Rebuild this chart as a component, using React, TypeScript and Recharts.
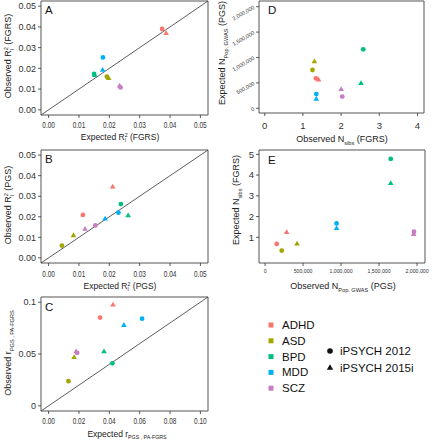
import React from 'react';
import { ScatterChart, Scatter, XAxis, YAxis, ReferenceLine, ReferenceArea } from 'recharts';

const FONT = "'Liberation Sans', Arial, Helvetica, sans-serif";

const diseases = ['ADHD', 'ASD', 'BPD', 'MDD', 'SCZ'];
const diseaseColors = ['#F8766D', '#A3A500', '#00BF7D', '#00B0F6', '#C77CC4'];
const cohorts = ['iPSYCH 2012', 'iPSYCH 2015i'];

// Panel A: Expected vs observed R2 (FGRS)
const aExpected2012 = [0.0374, 0.0192, 0.0150, 0.0179, 0.0237];
const aObserved2012 = [0.0390, 0.0160, 0.0173, 0.0253, 0.0108];
const aExpected2015 = [0.0387, 0.0198, 0.0152, 0.0178, 0.0234];
const aObserved2015 = [0.0369, 0.0152, 0.0167, 0.0192, 0.0116];

// Panel B: Expected vs observed R2 (PGS)
const bExpected2012 = [0.0113, 0.0044, 0.0238, 0.0230, 0.0154];
const bObserved2012 = [0.0209, 0.0060, 0.0262, 0.0220, 0.0158];
const bExpected2015 = [0.0211, 0.0082, 0.0262, 0.0186, 0.0120];
const bObserved2015 = [0.0346, 0.0109, 0.0206, 0.0190, 0.0140];

// Panel C: Expected vs observed r PGS, PA-FGRS
const cExpected2012 = [0.0339, 0.0131, 0.0420, 0.0616, 0.0188];
const cObserved2012 = [0.0851, 0.0238, 0.0410, 0.0841, 0.0511];
const cExpected2015 = [0.0424, 0.0168, 0.0365, 0.0496, 0.0181];
const cObserved2015 = [0.0975, 0.0467, 0.0524, 0.0778, 0.0524];

// Panel D: Observed N sibs (FGRS) vs expected N Pop. GWAS (PGS)
const dSibs2012 = [1.34, 1.25, 2.58, 1.35, 2.03];
const dPop2012 = [590000, 754000, 1160000, 280000, 230000];
const dSibs2015 = [1.41, 1.30, 2.52, 1.35, 2.00];
const dPop2015 = [560000, 920000, 490000, 180000, 374000];

// Panel E: Observed N Pop. GWAS (PGS) vs expected N sibs (FGRS)
const ePop2012 = [153000, 219000, 1654000, 941000, 1960000];
const eSibs2012 = [0.68, 0.36, 4.78, 1.67, 1.27];
const ePop2015 = [284000, 420000, 1654000, 941000, 1956000];
const eSibs2015 = [1.24, 0.68, 3.60, 1.43, 1.15];

const r2Ticks = [0, 0.01, 0.02, 0.03, 0.04, 0.05];
const cXTicks = [0, 0.02, 0.04, 0.06, 0.08, 0.1];
const cYTicks = [0, 0.05, 0.1];
const dXTicks = [0, 1, 2, 3, 4];
const dYTicks = [0, 500000, 1000000, 1500000, 2000000];
const eXTicks = [0, 500000, 1000000, 1500000, 2000000];
const eYTicks = [1, 2, 3, 4, 5];

type Pt = { x: number; y: number; disease: string; color: string };
const mk = (xs: number[], ys: number[]): Pt[] =>
  xs.map((x, i) => ({ x, y: ys[i], disease: diseases[i], color: diseaseColors[i] }));

const circleShape = (p: any) => <circle cx={p.cx} cy={p.cy} r={2.4} fill={p.payload.color} />;
const triangleShape = (p: any) => {
  const { cx, cy } = p;
  const pts = `${cx},${cy - 3.1} ${cx - 2.8},${cy + 1.7} ${cx + 2.8},${cy + 1.7}`;
  return <polygon points={pts} fill={p.payload.color} />;
};

type TickOpts = {
  fs: number;
  anchor: 'middle' | 'end';
  dy: number;
  sx?: number;
  rot?: number;
  fmt: (v: number) => string;
};
const makeTick = (o: TickOpts) => (props: any) => {
  const { x, y, payload } = props;
  let t = `translate(${x},${y})`;
  if (o.sx) t += ` scale(${o.sx},1)`;
  if (o.rot) t += ` rotate(${o.rot})`;
  return (
    <g transform={t}>
      <text x={0} y={o.dy} textAnchor={o.anchor} fontSize={o.fs} fontFamily={FONT} fill="#333">
        {o.fmt(payload.value)}
      </text>
    </g>
  );
};

const fmt2 = (v: number) => v.toFixed(2);
const fmtC = (v: number) => (v === 0 ? '0' : String(v));
const fmtInt = (v: number) => String(v);
const fmtComma = (v: number) => v.toLocaleString('en-US');

type PanelProps = {
  box: [number, number, number, number];
  xDomain: [number, number];
  yDomain: [number, number];
  xTicks: number[];
  yTicks: number[];
  xTick: TickOpts;
  yTick: TickOpts;
  d2012: Pt[];
  d2015: Pt[];
  diagonal?: boolean;
  rightExtra?: number;
};

function Panel(props: PanelProps) {
  const { box, xDomain, yDomain, xTicks, yTicks, xTick, yTick, d2012, d2015, diagonal } = props;
  const [x0, y0, x1, y1] = box;
  const AX = 45;
  const BOT = 30;
  const PAD = 2;
  const RIGHT = PAD + (props.rightExtra || 0);
  const left = x0 - AX;
  const top = y0 - PAD;
  const width = x1 - x0 + AX + RIGHT;
  const height = y1 - y0 + PAD + BOT;
  return (
    <div style={{ position: 'absolute', left, top }}>
      <ScatterChart
        width={width}
        height={height}
        margin={{ top: PAD, right: RIGHT, bottom: 0, left: 0 }}
        style={{ overflow: 'visible' }}
      >
        <XAxis
          type="number"
          dataKey="x"
          domain={xDomain}
          ticks={xTicks}
          interval={0}
          allowDataOverflow
          axisLine={false}
          tickSize={3}
          tickLine={{ stroke: '#333', strokeWidth: 0.8 }}
          height={BOT}
          tick={makeTick(xTick)}
        />
        <YAxis
          type="number"
          dataKey="y"
          domain={yDomain}
          ticks={yTicks}
          interval={0}
          allowDataOverflow
          axisLine={false}
          tickSize={3}
          tickLine={{ stroke: '#333', strokeWidth: 0.8 }}
          width={AX}
          tick={makeTick(yTick)}
        />
        <ReferenceArea
          x1={xDomain[0]}
          x2={xDomain[1]}
          y1={yDomain[0]}
          y2={yDomain[1]}
          fill="none"
          stroke="#555"
          strokeWidth={1}
          ifOverflow="visible"
        />
        {diagonal && (
          <ReferenceLine
            segment={[
              { x: xDomain[0], y: yDomain[0] },
              { x: xDomain[1], y: yDomain[1] },
            ]}
            stroke="#333"
            strokeWidth={0.8}
            ifOverflow="visible"
          />
        )}
        <Scatter name={cohorts[0]} data={d2012} shape={circleShape} isAnimationActive={false} />
        <Scatter name={cohorts[1]} data={d2015} shape={triangleShape} isAnimationActive={false} />
      </ScatterChart>
    </div>
  );
}

type TitleProps = {
  x: number;
  y: number;
  vertical?: boolean;
  fs: number;
  pre: string;
  sup?: string;
  sub?: string;
  post: string;
  supW?: number;
  subW?: number;
};

function MathTitle(p: TitleProps) {
  const { x, y, vertical, fs, pre, sup, sub, post } = p;
  const s = fs * 0.62;
  const parts: any[] = [];
  let net = 0;
  if (sup) {
    parts.push(
      <tspan key="sup" dy={-0.38 * fs} fontSize={s}>
        {sup}
      </tspan>
    );
    net = -0.38 * fs;
  }
  if (sub) {
    const dx = sup ? -(p.supW || 0.556) * s : 0;
    const target = 0.28 * fs;
    parts.push(
      <tspan key="sub" dx={dx} dy={target - net} fontSize={s}>
        {sub}
      </tspan>
    );
    net = target;
  }
  const postDx = sup && sub ? Math.max(0, ((p.supW || 0.556) - (p.subW || 0.222)) * s) : 0;
  parts.push(
    <tspan key="post" dx={postDx} dy={-net}>
      {post}
    </tspan>
  );
  return (
    <text
      x={0}
      y={fs * 0.35}
      transform={`translate(${x},${y})${vertical ? ' rotate(-90)' : ''}`}
      textAnchor="middle"
      fontSize={fs}
      fontFamily={FONT}
      fill="#222"
    >
      {pre}
      {parts}
    </text>
  );
}

export default function App() {
  const r2Dom: [number, number] = [-0.0025, 0.0525];
  const cDom: [number, number] = [-0.005, 0.105];
  const xSmallTick = (dy: number): TickOpts => ({ fs: 9, anchor: 'middle', dy, sx: 0.72, fmt: fmt2 });
  const yR2Tick: TickOpts = { fs: 9, anchor: 'end', dy: 3.2, fmt: fmt2 };
  return (
    <div style={{ position: 'absolute', left: 0, top: 0, width: 433, height: 440, background: '#fff', overflow: 'hidden' }}>
      <Panel
        box={[41, 1, 208, 115]}
        xDomain={r2Dom}
        yDomain={r2Dom}
        xTicks={r2Ticks}
        yTicks={r2Ticks}
        xTick={xSmallTick(8.3)}
        yTick={yR2Tick}
        d2012={mk(aExpected2012, aObserved2012)}
        d2015={mk(aExpected2015, aObserved2015)}
        diagonal
      />
      <Panel
        box={[41, 150, 208, 263]}
        xDomain={r2Dom}
        yDomain={r2Dom}
        xTicks={r2Ticks}
        yTicks={r2Ticks}
        xTick={xSmallTick(9.5)}
        yTick={yR2Tick}
        d2012={mk(bExpected2012, bObserved2012)}
        d2015={mk(bExpected2015, bObserved2015)}
        diagonal
      />
      <Panel
        box={[41, 297, 208, 411]}
        xDomain={cDom}
        yDomain={cDom}
        xTicks={cXTicks}
        yTicks={cYTicks}
        xTick={xSmallTick(8.2)}
        yTick={{ fs: 9, anchor: 'end', dy: 3.2, fmt: fmtC }}
        d2012={mk(cExpected2012, cObserved2012)}
        d2015={mk(cExpected2015, cObserved2015)}
        diagonal
      />
      <Panel
        box={[259, 1, 424, 113]}
        xDomain={[-0.15, 4.17]}
        yDomain={[-92500, 2112000]}
        xTicks={dXTicks}
        yTicks={dYTicks}
        xTick={{ fs: 9.5, anchor: 'middle', dy: 10.5, fmt: fmtInt }}
        yTick={{ fs: 5.5, anchor: 'end', dy: 2, rot: -30, fmt: fmtComma }}
        d2012={mk(dSibs2012, dPop2012)}
        d2015={mk(dSibs2015, dPop2015)}
        rightExtra={6}
      />
      <Panel
        box={[259, 150, 425, 263]}
        xDomain={[-80000, 2105000]}
        yDomain={[-0.24, 5.21]}
        xTicks={eXTicks}
        yTicks={eYTicks}
        xTick={{ fs: 5.2, anchor: 'middle', dy: 5, fmt: fmtComma }}
        yTick={{ fs: 9.5, anchor: 'end', dy: 3.3, fmt: fmtInt }}
        d2012={mk(ePop2012, eSibs2012)}
        d2015={mk(ePop2015, eSibs2015)}
        rightExtra={6}
      />
      <svg
        width={433}
        height={440}
        style={{ position: 'absolute', left: 0, top: 0, pointerEvents: 'none' }}
      >
        {/* panel letters */}
        <g fontFamily={FONT} fontSize={11.5} fill="#111">
          <text x={45} y={14}>A</text>
          <text x={45} y={163}>B</text>
          <text x={45} y={311}>C</text>
          <text x={268} y={14}>D</text>
          <text x={268} y={164}>E</text>
        </g>
        {/* axis titles */}
        <MathTitle x={120} y={137} fs={8.5} pre="Expected R" sup="2" sub="l" post=" (FGRS)" />
        <MathTitle x={8} y={56} vertical fs={9} pre="Observed R" sup="2" sub="l" post=" (FGRS)" />
        <MathTitle x={120} y={286} fs={8.5} pre="Expected R" sup="2" sub="l" post=" (PGS)" />
        <MathTitle x={8} y={205} vertical fs={9} pre="Observed R" sup="2" sub="l" post=" (PGS)" />
        <MathTitle x={127} y={434} fs={8.5} pre="Expected r" sub="PGS , PA-FGRS" post="" />
        <MathTitle x={8} y={353} vertical fs={9} pre="Observed r" sub="PGS , PA-FGRS" post="" />
        <MathTitle x={342} y={139} fs={9} pre="Observed N" sub="sibs" post="  (FGRS)" />
        <MathTitle x={222} y={53} vertical fs={9} pre="Expected N" sub="Pop. GWAS" post="  (PGS)" />
        <MathTitle x={343} y={286} fs={9} pre="Observed N" sub="Pop. GWAS" post="  (PGS)" />
        <MathTitle x={236} y={200} vertical fs={9} pre="Expected N" sub="sibs" post="  (FGRS)" />
        {/* legend: disease colours */}
        <g fontFamily={FONT} fontSize={11.5} fill="#111">
          {diseases.map((d, i) => {
            const cy = 325 + i * 15.8;
            return (
              <g key={d}>
                <rect x={268.5} y={cy - 2.5} width={5} height={5} fill={diseaseColors[i]} />
                <text x={282} y={cy + 4}>{d}</text>
              </g>
            );
          })}
          <circle cx={330} cy={351} r={2.8} fill="#111" />
          <text x={340} y={355}>{cohorts[0]}</text>
          <polygon points="330,364.2 326.8,369.8 333.2,369.8" fill="#111" />
          <text x={340} y={372}>{cohorts[1]}</text>
        </g>
      </svg>
    </div>
  );
}
